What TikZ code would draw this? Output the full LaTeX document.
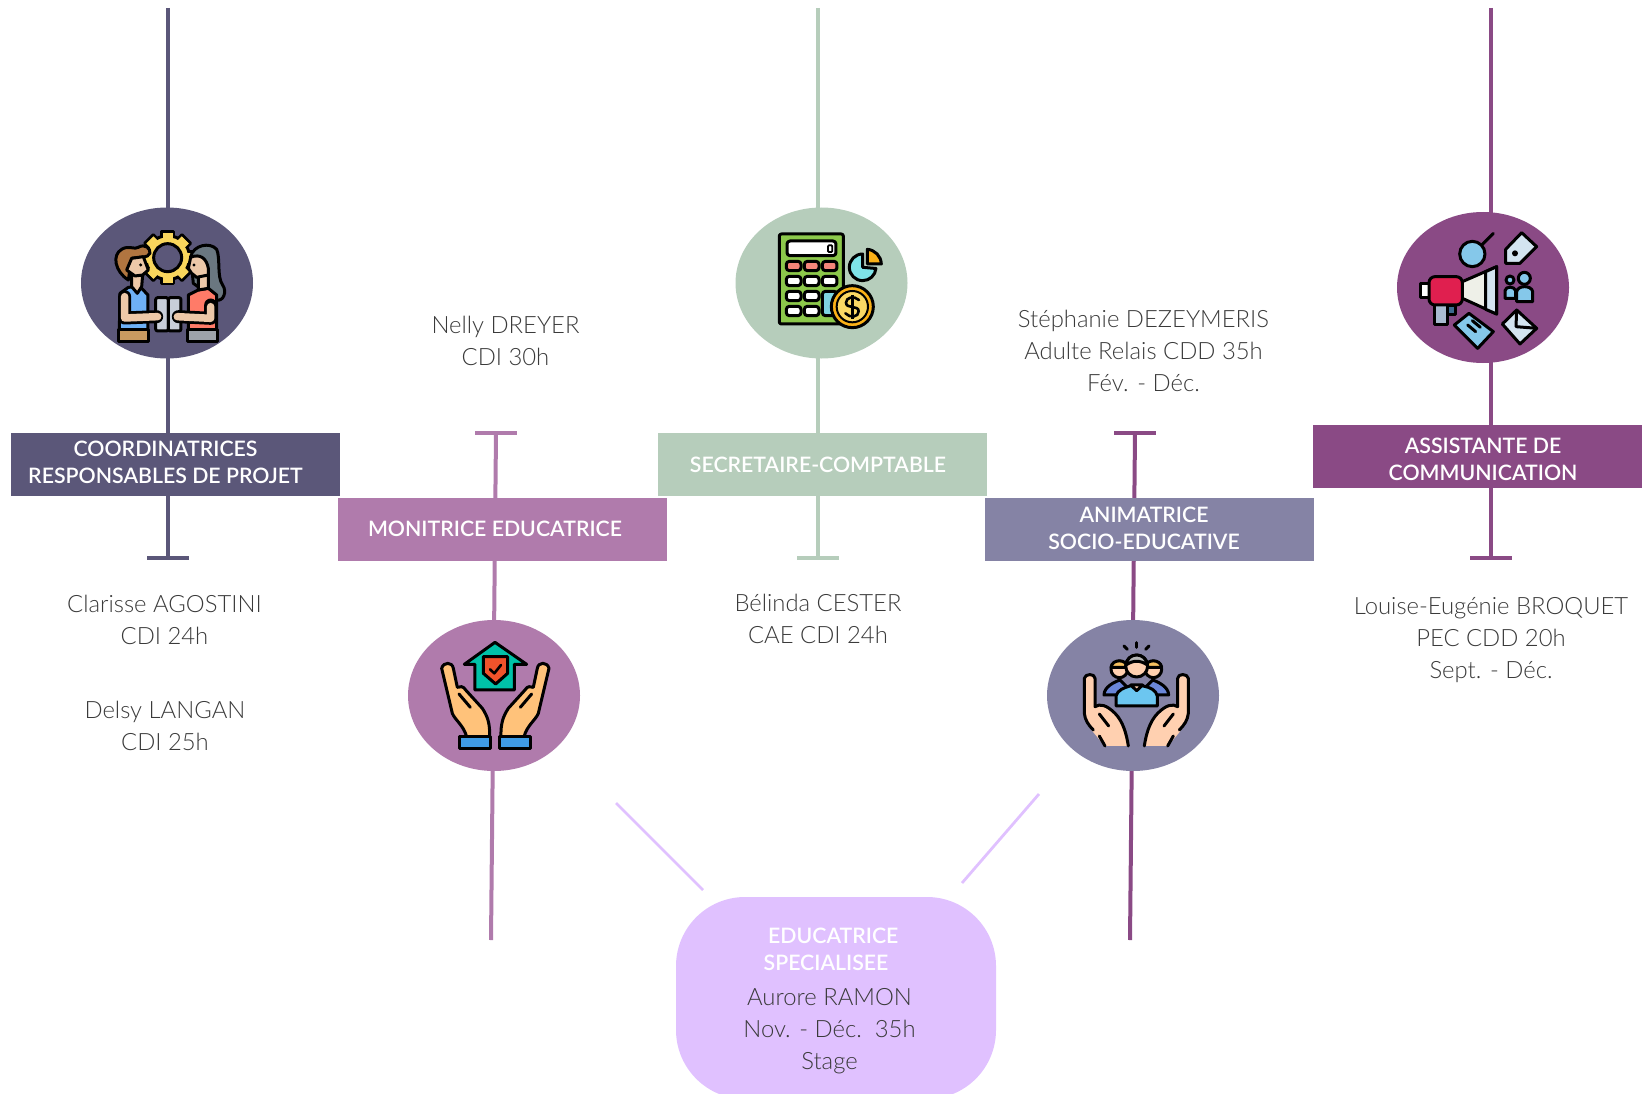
\documentclass[tikz,border=0pt]{standalone}
\usepackage{fontspec}
\setmainfont{Lato}[UprightFont=* Light,BoldFont=* Medium]
\newfontfamily\boxfont{Lato Semibold}
\definecolor{cOne}{HTML}{5B5779}
\definecolor{cTwo}{HTML}{B07BAC}
\definecolor{cThree}{HTML}{B6CDBB}
\definecolor{cFour}{HTML}{8583A5}
\definecolor{cFive}{HTML}{8A4A85}
\definecolor{cPill}{HTML}{E0C1FF}
\definecolor{cText}{HTML}{3A3A3A}
\definecolor{gearY}{HTML}{F9D65C}
\definecolor{skinA}{HTML}{EDC8A8}
\definecolor{hairB}{HTML}{B07540}
\definecolor{vestB}{HTML}{6EB0F5}
\definecolor{pantB}{HTML}{C99A60}
\definecolor{hairG}{HTML}{6A7780}
\definecolor{shirtR}{HTML}{FF7B68}
\definecolor{pantG}{HTML}{9EA3AB}
\definecolor{tabG}{HTML}{C8CED9}
\definecolor{calcG}{HTML}{8CC84B}
\definecolor{btnR}{HTML}{F4857A}
\definecolor{btnT}{HTML}{7FD4E0}
\definecolor{coinO}{HTML}{FBB117}
\definecolor{coinY}{HTML}{FBD864}
\definecolor{pieT}{HTML}{7FE3E8}
\definecolor{megB}{HTML}{85C8EA}
\definecolor{megL}{HTML}{D3E4F0}
\definecolor{megR}{HTML}{E01F4F}
\definecolor{megW}{HTML}{EEF0E8}
\definecolor{megG}{HTML}{A9BBD0}
\definecolor{megD}{HTML}{3C6A8F}
\definecolor{houseT}{HTML}{00C2A8}
\definecolor{shieldR}{HTML}{F0532B}
\definecolor{handO}{HTML}{FFC27A}
\definecolor{cuffB}{HTML}{3F9BE5}
\definecolor{handP}{HTML}{FFD0B0}
\definecolor{sideB}{HTML}{6A86D8}
\definecolor{midB}{HTML}{6CC6F0}
\definecolor{hairY}{HTML}{F5C060}
\definecolor{hairS}{HTML}{B5B5B5}
\tikzset{
  x=1pt,y=-1pt,
  stem/.style={line width=4pt},
  tbar/.style={line width=4.6pt},
  thinstem/.style={line width=2.8pt,color=cPill},
  disc/.style={ellipse,minimum width=172pt,minimum height=151pt,inner sep=0pt},
  role/.style={rectangle,minimum width=329pt,minimum height=63pt,inner sep=0pt},
  roletext/.style={text=white,align=center,inner sep=0pt,font=\boxfont\fontsize{21.3}{27}\selectfont},
  person/.style={text=cText,align=center,inner sep=0pt,font=\fontsize{23.85}{32}\selectfont},
  ic/.style={draw=black,line width=3pt,line join=round,line cap=round},
  iz/.style={shift={#1},scale=0.3333},
}
\usetikzlibrary{shapes.geometric}
\begin{document}
\begin{tikzpicture}
\useasboundingbox (0,0) rectangle (1651,1094);
\clip (0,0) rectangle (1651,1094);
% anchors
\coordinate (a1) at (167.5,8);  \coordinate (b1) at (167.5,558);
\coordinate (a1l) at (147,558); \coordinate (a1r) at (189,558);
\coordinate (a2) at (496,433);  \coordinate (b2) at (491,940);
\coordinate (a2l) at (475,433); \coordinate (a2r) at (517,433);
\coordinate (a3) at (818,8);    \coordinate (b3) at (818,558);
\coordinate (a3l) at (797,558); \coordinate (a3r) at (839,558);
\coordinate (a4) at (1135,433); \coordinate (b4) at (1130,940);
\coordinate (a4l) at (1114,433);\coordinate (a4r) at (1156,433);
\coordinate (a5) at (1491,8);   \coordinate (b5) at (1491,558);
\coordinate (a5l) at (1470,558);\coordinate (a5r) at (1512,558);
\coordinate (p1) at (616,803);  \coordinate (p2) at (703,890);
\coordinate (q1) at (1039,794); \coordinate (q2) at (962,883);
% connectors
\draw[stem,cOne] (a1)--(b1); \draw[tbar,cOne] (a1l)--(a1r);
\draw[stem,cTwo] (a2)--(b2); \draw[tbar,cTwo] (a2l)--(a2r);
\draw[stem,cThree] (a3)--(b3); \draw[tbar,cThree] (a3l)--(a3r);
\draw[stem,cFive] (a4)--(b4); \draw[tbar,cFive] (a4l)--(a4r);
\draw[stem,cFive] (a5)--(b5); \draw[tbar,cFive] (a5l)--(a5r);
\draw[thinstem] (p1)--(p2);
\draw[thinstem] (q1)--(q2);
% discs
\node[disc,fill=cOne] (d1) at (167,283) {};
\node[disc,fill=cTwo] (d2) at (494,695.5) {};
\node[disc,fill=cThree] (d3) at (821.5,283) {};
\node[disc,fill=cFour] (d4) at (1133,695.5) {};
\node[disc,fill=cFive] (d5) at (1483,287.5) {};
% role boxes
\node[role,fill=cOne] (r1) at (175.5,464.5) {};
\node[roletext] (r1t) at (165.5,462.5) {COORDINATRICES\\RESPONSABLES DE PROJET};
\node[role,fill=cTwo] (r2) at (502.5,529.5) {};
\node[roletext] (r2t) at (495,529) {MONITRICE EDUCATRICE};
\node[role,fill=cThree] (r3) at (822.5,464.5) {};
\node[roletext] (r3t) at (818,465) {SECRETAIRE-COMPTABLE};
\node[role,fill=cFour] (r4) at (1149.5,529.5) {};
\node[roletext] (r4t) at (1144,528.5) {ANIMATRICE\\SOCIO-EDUCATIVE};
\node[role,fill=cFive] (r5) at (1477.5,456.5) {};
\node[roletext] (r5t) at (1483,459.5) {ASSISTANTE DE\\COMMUNICATION};
% pill
\node[rectangle,rounded corners=69pt,fill=cPill,minimum width=320pt,minimum height=202pt,inner sep=0pt] (pill) at (836,998) {};
\node[roletext,align=left] (pillt) at (831,949) {\hspace*{4.5pt}EDUCATRICE\\SPECIALISEE};
\node[person] (pillp) at (829.5,1031.2) {Aurore RAMON\\Nov. - Déc.\ \ 35h\\Stage};
% people
\node[person] (t1) at (164.5,620.3) {Clarisse AGOSTINI\\CDI 24h};
\node[person] (t1b) at (165,726.3) {Delsy LANGAN\\CDI 25h};
\node[person] (t2) at (505.5,341) {Nelly DREYER\\CDI 30h};
\node[person] (t3) at (818,619.3) {Bélinda CESTER\\CAE CDI 24h};
\node[person] (t4) at (1143.5,351.3) {Stéphanie DEZEYMERIS\\Adulte Relais CDD 35h\\Fév. - Déc.};
\node[person] (t5) at (1491,640.2) {Louise-Eugénie BROQUET\\PEC CDD 20h\\Sept. - Déc.};
% ---- icon 1 : two colleagues and a gear
\begin{scope}[iz={(60,190)}]
  \foreach \a in {0,45,...,315}{
    \draw[ic,fill=gearY,rotate around={\a:(323,203)}] (305,124) rectangle (341,150);
  }
  \draw[ic,fill=gearY] (323,203) circle[radius=66];
  \foreach \a in {0,45,...,315}{
    \fill[gearY,rotate around={\a:(323,203)}] (308,128) rectangle (338,160);
  }
  \draw[ic,fill=cOne] (323,203) circle[radius=42];
  % tablet
  \draw[ic,fill=tabG,rounded corners=2pt] (287,323) rectangle (325,423);
  \draw[ic,fill=tabG,rounded corners=2pt] (325,323) rectangle (363,423);
  % man
  \draw[ic,fill=vestB] (205,292) -- (180,310) -- (178,420) -- (264,420) -- (264,315) -- (240,290) -- cycle;
  \draw[ic,fill=pantB] (175,420) rectangle (267,456);
  \draw[ic,fill=skinA] (215,250) -- (215,290) -- (232,310) -- (245,290) -- (248,255) -- cycle;
  \draw[ic,fill=hairB] (205,270) .. controls (165,245) and (155,195) .. (185,178) .. controls (205,165) and (225,180) .. (235,172) .. controls (255,160) and (272,175) .. (270,190) .. controls (262,205) and (245,200) .. (215,205) -- (205,270) -- cycle;
  \draw[ic,fill=skinA] (215,205) -- (250,200) -- (265,240) -- (248,255) -- (225,258) -- (200,240) -- cycle;
  \fill (242,225) circle[radius=5];
  \draw[black,line width=13pt,line join=round,line cap=round] (194,320) -- (194,384) -- (290,380);
  \draw[skinA,line width=7.5pt,line join=round,line cap=round] (194,320) -- (194,384) -- (293,380);
  % woman
  \draw[ic,fill=hairG] (392,200) .. controls (400,165) and (450,155) .. (470,178) .. controls (482,205) and (470,260) .. (488,285) .. controls (502,305) and (490,335) .. (470,330) -- (400,280) -- cycle;
  \draw[ic,fill=shirtR] (415,300) -- (385,315) -- (385,420) -- (470,420) -- (470,345) -- (470,315) -- (445,295) -- cycle;
  \draw[ic,fill=pantG] (382,420) rectangle (473,456);
  \draw[ic,fill=skinA] (415,250) -- (415,300) -- (445,295) -- (445,240) -- cycle;
  \draw[ic,fill=skinA] (392,202) .. controls (420,190) and (440,205) .. (445,235) -- (445,255) -- (410,262) -- (395,250) -- (385,235) -- cycle;
  \fill (402,225) circle[radius=5];
  \draw[black,line width=13pt,line join=round,line cap=round] (452,345) -- (452,385) -- (355,380);
  \draw[skinA,line width=7.5pt,line join=round,line cap=round] (452,350) -- (452,385) -- (352,380);
\end{scope}
% ---- icon 2 : calculator
\begin{scope}[iz={(720,190)}]
  \draw[ic,fill=calcG,rounded corners=2pt] (178,132) rectangle (370,402);
  \draw[ic,fill=white,rounded corners=3pt] (201,153) rectangle (348,197);
  \draw[black,line width=1.8pt,rounded corners=1pt] (324,166) rectangle (337,186);
  \foreach \xx in {199,253,307}{
    \draw[ic,fill=btnR,rounded corners=3pt] (\xx,214) rectangle ++(44,28);
    \draw[ic,fill=white,rounded corners=3pt] (\xx,259) rectangle ++(44,28);
  }
  \foreach \xx in {199,253}{
    \draw[ic,fill=white,rounded corners=3pt] (\xx,304) rectangle ++(44,28);
    \draw[ic,fill=white,rounded corners=3pt] (\xx,349) rectangle ++(44,28);
  }
  \draw[ic,fill=btnT,rounded corners=3pt] (307,304) rectangle (351,377);
  % pie
  \draw[ic,fill=pieT] (428,192) arc[start angle=270,end angle=5,radius=40] -- (428,232) -- cycle;
  \draw[ic,fill=coinO] (442,178) .. controls (465,180) and (483,198) .. (484,222) -- (442,222) -- cycle;
  % coin
  \draw[ic,fill=coinO] (397,350) circle[radius=63];
  \draw[black,line width=2pt,fill=coinY] (397,350) circle[radius=47];
  \draw[black,line width=2.6pt,line cap=round] (417,330) .. controls (402,316) and (378,322) .. (378,338) .. controls (378,358) and (416,344) .. (416,364) .. controls (416,382) and (390,385) .. (376,370);
  \draw[black,line width=2.6pt] (397,316) -- (397,386);
\end{scope}
% ---- icon 3 : megaphone
\begin{scope}[iz={(1385,200)}]
  \draw[ic] (285,140) -- (325,100);
  \draw[ic,fill=megB] (262,162) circle[radius=38];
  \draw[ic,fill=megL] (410,98) -- (455,140) -- (405,190) -- (362,190) -- (362,148) -- cycle;
  \fill (390,160) circle[radius=9];
  \draw[ic,fill=megD] (185,318) rectangle (210,345);
  \draw[ic,fill=megG] (148,315) rectangle (188,375);
  \draw[ic,fill=white] (105,252) rectangle (132,292);
  \draw[ic,fill=megW] (232,245) -- (335,200) -- (335,342) -- (232,295) -- cycle;
  \draw[ic,fill=megL] (302,215) -- (335,200) -- (335,342) -- (302,328) -- cycle;
  \draw[ic,fill=megR,rounded corners=6pt] (132,230) rectangle (232,315);
  \draw[ic,fill=megB] (208,375) -- (252,340) -- (325,395) -- (278,445) -- cycle;
  \draw[ic] (248,375) -- (272,395);
  \draw[ic] (262,362) -- (286,382);
  \draw[ic,fill=megL] (395,330) -- (455,385) -- (405,432) -- (352,372) -- cycle;
  \draw[ic] (395,330) -- (393,380) -- (455,385);
  \draw[ic,fill=megB] (360,295) -- (360,272) .. controls (362,258) and (388,258) .. (392,272) -- (392,295) -- cycle;
  \draw[ic,fill=megB] (395,305) -- (395,275) .. controls (398,255) and (440,255) .. (443,275) -- (443,305) -- cycle;
  \draw[ic,fill=megB] (375,240) circle[radius=12];
  \draw[ic,fill=megB] (418,235) circle[radius=18];
\end{scope}
% ---- icon 4 : hands and house
\begin{scope}[iz={(395,610)}]
  \draw[ic,fill=houseT] (300,97) -- (395,163) -- (358,163) -- (358,240) -- (240,240) -- (240,163) -- (208,163) -- cycle;
  \draw[ic,fill=shieldR] (265,140) -- (338,140) -- (338,190) -- (302,222) -- (265,190) -- cycle;
  \draw[black,line width=2.6pt,line cap=round,line join=round] (285,178) -- (298,190) -- (318,165);
  \foreach \m/\sx in {0/1,602/-1}{
    \begin{scope}[shift={(\m,0)},xscale=\sx]
      \draw[ic,fill=handO] (140,175) .. controls (145,155) and (172,155) .. (175,175) -- (187,232) .. controls (195,228) and (205,228) .. (212,240) -- (262,295) .. controls (278,320) and (285,340) .. (284,380) -- (215,380) .. controls (205,345) and (180,330) .. (172,310) -- cycle;
      \draw[ic] (192,252) -- (226,292);
      \draw[ic,fill=cuffB] (195,380) rectangle (287,417);
    \end{scope}
  }
\end{scope}
% ---- icon 5 : hands and team
\begin{scope}[iz={(1040,610)}]
  \foreach \m/\sx in {0/1,578/-1}{
    \begin{scope}[shift={(\m,0)},xscale=\sx]
      \fill[handP] (133,205) .. controls (135,190) and (165,190) .. (165,205) -- (165,290) .. controls (180,280) and (200,285) .. (225,310) .. controls (250,335) and (260,375) .. (265,408) -- (192,408) .. controls (180,385) and (135,350) .. (133,310) -- cycle;
      \draw[ic] (265,408) .. controls (260,375) and (250,335) .. (225,310) .. controls (200,285) and (180,280) .. (165,290) -- (165,205) .. controls (165,190) and (135,190) .. (133,205) -- (133,310) .. controls (135,330) and (145,345) .. (160,360);
      \draw[ic] (178,378) -- (195,408);
      \draw[ic] (178,312) -- (206,348);
      \draw[ic,fill=sideB] (192,255) .. controls (192,230) and (225,215) .. (240,210) -- (270,240) -- (270,255) -- cycle;
      \draw[ic,fill=handP] (238,178) circle[radius=25];
      \draw[ic,fill=hairY] (213,172) .. controls (216,146) and (260,146) .. (263,172) -- cycle;
    \end{scope}
  }
  \draw[ic,fill=midB] (228,288) -- (228,258) .. controls (232,240) and (255,232) .. (270,228) -- (310,228) .. controls (330,232) and (348,240) .. (352,258) -- (352,288) -- cycle;
  \draw[ic,fill=handP] (272,225) -- (290,242) -- (308,225) -- cycle;
  \draw[ic,fill=handP] (290,168) circle[radius=33];
  \draw[ic,fill=hairS] (258,165) .. controls (262,125) and (318,125) .. (322,165) .. controls (300,150) and (280,150) .. (258,165) -- cycle;
  \draw[ic] (290,98) -- (290,112);
  \draw[ic] (252,108) -- (262,118);
  \draw[ic] (327,108) -- (317,118);
\end{scope}
\end{tikzpicture}
\end{document}
